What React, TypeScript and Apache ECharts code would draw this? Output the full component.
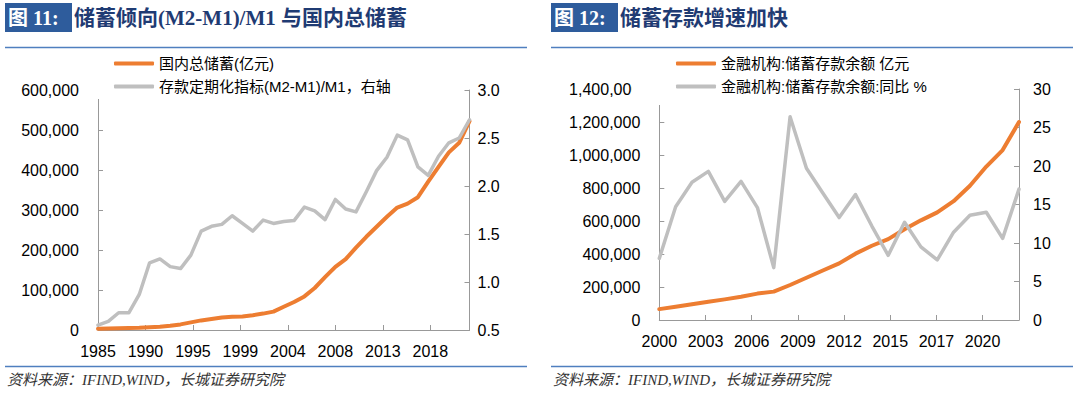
import React, { useEffect, useRef } from "react";
import * as echarts from "echarts";

// ---------- Left chart (图 11) ----------
const leftYears = [
  1985, 1986, 1987, 1988, 1989, 1990, 1991, 1992, 1993, 1994, 1995, 1996, 1997,
  1998, 1999, 2000, 2001, 2002, 2003, 2004, 2005, 2006, 2007, 2008, 2009, 2010,
  2011, 2012, 2013, 2014, 2015, 2016, 2017, 2018, 2019, 2020, 2021,
];
const grossSavings = [
  3000, 3500, 4200, 5000, 5600, 6800, 8000, 10500, 14000, 19000, 24000, 27500,
  31500, 33000, 34000, 37000, 41000, 46000, 58000, 70000, 84000, 105000, 132000,
  158000, 177000, 206000, 233000, 258000, 283000, 306000, 316000, 332000, 371000,
  408000, 444000, 468000, 522000,
];
const termDepositRatio = [
  0.55, 0.59, 0.68, 0.68, 0.87, 1.2, 1.24, 1.16, 1.14, 1.28, 1.53, 1.58, 1.6,
  1.69, 1.61, 1.53, 1.645, 1.61, 1.63, 1.64, 1.78, 1.74, 1.65, 1.86, 1.76, 1.73,
  1.94, 2.16, 2.3, 2.53, 2.48, 2.2, 2.11, 2.31, 2.45, 2.5, 2.69,
];
const leftXTickLabels = ["1985", "1990", "1995", "1999", "2004", "2008", "2013", "2018"];
const leftSeriesNames = ["国内总储蓄(亿元)", "存款定期化指标(M2-M1)/M1，右轴"];

// ---------- Right chart (图 12) ----------
const rightYears = [
  2000, 2001, 2002, 2003, 2004, 2005, 2006, 2007, 2008, 2009, 2010, 2011, 2012,
  2013, 2014, 2015, 2016, 2017, 2018, 2019, 2020, 2021, 2022,
];
const savingsDeposits = [
  66000, 80000, 96000, 111000, 125000, 141000, 160000, 172000, 212000, 256000,
  300000, 343000, 402000, 450000, 490000, 550000, 604000, 652000, 720000, 814000,
  930000, 1030000, 1200000,
];
const savingsDepositsYoY = [
  8.0, 14.7, 17.9, 19.3, 15.4, 18.0, 14.6, 6.8, 26.4, 19.7, 16.5, 13.3, 16.3,
  12.2, 8.4, 12.7, 9.5, 7.8, 11.4, 13.6, 14.0, 10.6, 17.0,
];
const rightXTickLabels = ["2000", "2003", "2006", "2009", "2012", "2015", "2017", "2020"];
const rightSeriesNames = ["金融机构:储蓄存款余额 亿元", "金融机构:储蓄存款余额:同比 %"];

const LEFT_STEP = 4.6;
const RIGHT_STEP = 2.825;

const ORANGE = "#ED7D31";
const GRAY = "#BFBFBF";
const AXIS = "#999999";
const SANS = "'Liberation Sans', Arial, 'Noto Sans CJK SC', sans-serif";
const SERIF = "'Liberation Serif', 'Times New Roman', 'Noto Sans CJK SC', serif";

const tickLabel = (labels: string[], step: number) => (v: number) => {
  const k = Math.round(v / step);
  return Math.abs(v - k * step) < 0.01 && k < labels.length ? labels[k] : "";
};

const xAxisBase = (gridIndex: number, max: number, step: number, labels: string[]) => ({
  type: "value",
  gridIndex,
  min: 0,
  max,
  interval: step,
  axisLine: { show: true, onZero: false, lineStyle: { color: AXIS, width: 1 } },
  axisTick: { show: true, inside: true, length: 5, lineStyle: { color: AXIS } },
  axisLabel: {
    formatter: tickLabel(labels, step),
    margin: 13,
    fontSize: 16,
    color: "#000",
    fontFamily: SANS,
  },
  splitLine: { show: false },
});

const yAxisBase = (
  gridIndex: number,
  position: string,
  min: number,
  max: number,
  interval: number,
  margin: number,
  formatter?: (v: number) => string
) => ({
  type: "value",
  gridIndex,
  position,
  min,
  max,
  interval,
  axisLine: { show: true, onZero: false, lineStyle: { color: AXIS, width: 1 } },
  axisTick: { show: true, inside: true, length: 5, lineStyle: { color: AXIS } },
  axisLabel: {
    margin,
    fontSize: 16,
    color: "#000",
    fontFamily: SANS,
    ...(formatter ? { formatter } : {}),
  },
  splitLine: { show: false },
});

const lineSeries = (
  name: string,
  xAxisIndex: number,
  yAxisIndex: number,
  years: number[],
  values: number[],
  color: string,
  width: number
) => ({
  type: "line",
  name,
  xAxisIndex,
  yAxisIndex,
  data: years.map((y, i) => [y - years[0], values[i]]),
  symbol: "none",
  lineStyle: { color, width, join: "round", cap: "round" },
  itemStyle: { color },
});

const legendBase = (left: number, names: string[], padding: number[]) => ({
  orient: "vertical",
  left,
  top: 52,
  padding,
  itemGap: 8,
  itemWidth: 40,
  itemHeight: 4,
  icon: "roundRect",
  backgroundColor: "#ffffff",
  data: names,
  textStyle: { fontSize: 15, color: "#000", fontFamily: SANS },
});

const titleBlock = (x0: number, x1: number, tag: string, title: string) => [
  { type: "rect", shape: { x: x0, y: 3, width: 67, height: 29 }, style: { fill: "#2E5C9C" } },
  {
    type: "text",
    x: x0 + 3,
    y: 18,
    style: {
      text: tag,
      fill: "#ffffff",
      fontSize: 20,
      fontWeight: "bold",
      fontFamily: SERIF,
      verticalAlign: "middle",
    },
  },
  {
    type: "text",
    x: x0 + 69,
    y: 18,
    style: {
      text: title,
      fill: "#1F3B73",
      fontSize: 21,
      fontWeight: "bold",
      fontFamily: SERIF,
      verticalAlign: "middle",
    },
  },
  {
    type: "line",
    shape: { x1: x0, y1: 47.5, x2: x1, y2: 47.5 },
    style: { stroke: "#4F7FBF", lineWidth: 1.5 },
  },
  {
    type: "line",
    shape: { x1: x0, y1: 366.5, x2: x1, y2: 366.5 },
    style: { stroke: "#4F7FBF", lineWidth: 1.5 },
  },
  {
    type: "text",
    x: x0 + 2,
    y: 380,
    style: {
      text: "资料来源：IFIND,WIND，长城证券研究院",
      fill: "#333333",
      fontSize: 15,
      fontStyle: "italic",
      fontFamily: SERIF,
      verticalAlign: "middle",
    },
  },
];

export default function App() {
  const ref = useRef<HTMLDivElement>(null);

  useEffect(() => {
    if (!ref.current) return;
    const chart = echarts.init(ref.current, undefined, { renderer: "svg" });
    chart.setOption({
      animation: false,
      backgroundColor: "#ffffff",
      grid: [
        { left: 98, top: 90, width: 371.5, height: 240, outerBoundsMode: "none" },
        { left: 659.3, top: 89, width: 359.7, height: 231, outerBoundsMode: "none" },
      ],
      xAxis: [
        xAxisBase(0, leftYears.length - 1, LEFT_STEP, leftXTickLabels),
        xAxisBase(1, rightYears.length - 1, RIGHT_STEP, rightXTickLabels),
      ],
      yAxis: [
        yAxisBase(0, "left", 0, 600000, 100000, 19),
        yAxisBase(0, "right", 0.5, 3.0, 0.5, 8, (v: number) => v.toFixed(1)),
        yAxisBase(1, "left", 0, 1400000, 200000, 19),
        yAxisBase(1, "right", 0, 30, 5, 14),
      ],
      legend: [
        legendBase(88, leftSeriesNames, [4, 10, 5, 26]),
        legendBase(632, rightSeriesNames, [4, 10, 11, 44]),
      ],
      series: [
        lineSeries(leftSeriesNames[0], 0, 0, leftYears, grossSavings, ORANGE, 4),
        lineSeries(leftSeriesNames[1], 0, 1, leftYears, termDepositRatio, GRAY, 3.5),
        lineSeries(rightSeriesNames[0], 1, 2, rightYears, savingsDeposits, ORANGE, 4),
        lineSeries(rightSeriesNames[1], 1, 3, rightYears, savingsDepositsYoY, GRAY, 3.5),
      ],
      graphic: {
        elements: [
          ...titleBlock(5, 527, "图 11:", "储蓄倾向(M2-M1)/M1 与国内总储蓄"),
          ...titleBlock(551, 1073, "图 12:", "储蓄存款增速加快"),
        ],
      },
    });
    return () => chart.dispose();
  }, []);

  return (
    <div
      ref={ref}
      style={{ position: "fixed", left: 0, top: 0, width: 1080, height: 393 }}
    />
  );
}
